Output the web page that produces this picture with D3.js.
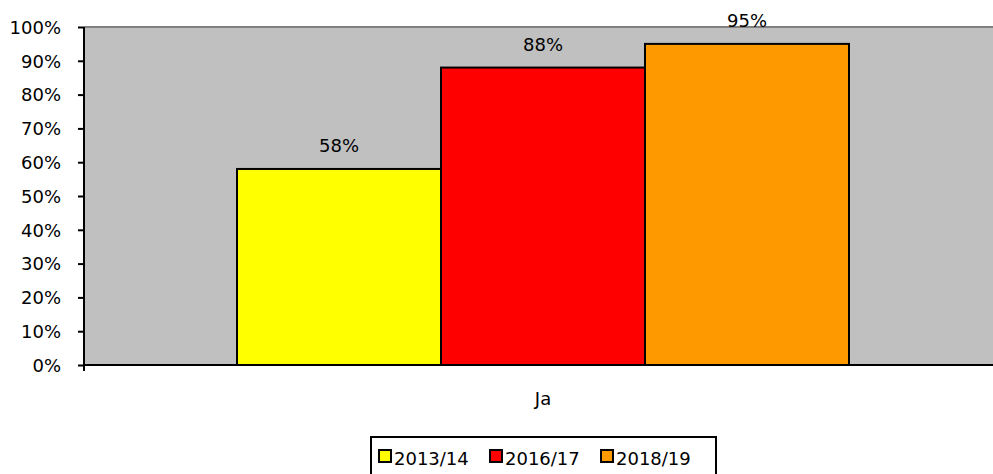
<!DOCTYPE html>
<meta charset="utf-8">
<style>
body { margin: 0; background: #fff; }
text { font-family: "DejaVu Sans", sans-serif; font-size: 18px; fill: #000; }
.tick line, .domain { stroke: #000; stroke-width: 2px; }
</style>
<body>
<div id="chart"></div>
<script src="https://d3js.org/d3.v7.min.js"></script>
<script>
// data
var categories = ["Ja"];
var seriesNames = ["2013/14", "2016/17", "2018/19"];
var seriesValues = [58, 88, 95];
var seriesColors = ["#ffff00", "#ff0000", "#ff9900"];
var yTicks = [0, 10, 20, 30, 40, 50, 60, 70, 80, 90, 100];

var W = 993, H = 474;
var margin = {top: 27, right: -9, bottom: 109, left: 84};
var width = W - margin.left - margin.right,
    height = H - margin.top - margin.bottom;

var svg = d3.select("#chart").append("svg")
    .attr("width", W)
    .attr("height", H);

var g = svg.append("g")
    .attr("transform", "translate(" + margin.left + "," + margin.top + ")");

var x0 = d3.scaleBand().domain(categories).range([0, width]).paddingInner(0).paddingOuter(0.25);
var x1 = d3.scaleBand().domain(seriesNames).range([0, x0.bandwidth()]);
var y = d3.scaleLinear().domain([0, 100]).range([height, 0]);

// plot background
g.append("rect")
    .attr("width", width)
    .attr("height", height)
    .attr("fill", "#c0c0c0");
g.append("line")
    .attr("x1", 0).attr("x2", width)
    .attr("y1", 0).attr("y2", 0)
    .attr("stroke", "#808080")
    .attr("stroke-width", 2);

// bars
var rows = seriesNames.map(function(s, i) { return {name: s, value: seriesValues[i], color: seriesColors[i]}; });
var cat = g.selectAll(".cat")
    .data(categories)
    .enter().append("g")
    .attr("transform", function(d) { return "translate(" + x0(d) + ",0)"; });

cat.selectAll("rect")
    .data(rows)
    .enter().append("rect")
    .attr("x", function(d) { return x1(d.name); })
    .attr("y", function(d) { return y(d.value); })
    .attr("width", x1.bandwidth())
    .attr("height", function(d) { return y(0) - y(d.value); })
    .attr("fill", function(d) { return d.color; })
    .attr("stroke", "#000")
    .attr("stroke-width", 2);

cat.selectAll(".lbl")
    .data(rows)
    .enter().append("text")
    .attr("class", "lbl")
    .attr("x", function(d) { return x1(d.name) + x1.bandwidth() / 2; })
    .attr("y", function(d) { return y(d.value) - 17; })
    .attr("text-anchor", "middle")
    .text(function(d) { return d.value + "%"; });

// y axis
g.append("g")
    .call(d3.axisLeft(y).tickValues(yTicks).tickSize(6).tickPadding(17).tickFormat(function(d) { return d + "%"; }))
    .call(function(a) { a.selectAll("text").style("font-size", "18px").attr("dy", "0.35em"); a.select(".domain").attr("d", "M0,0V" + height); });

// x axis
g.append("line")
    .attr("x1", 0).attr("x2", width)
    .attr("y1", height).attr("y2", height)
    .attr("stroke", "#000").attr("stroke-width", 2);
g.append("line")
    .attr("x1", 0).attr("x2", 0)
    .attr("y1", height).attr("y2", height + 6)
    .attr("stroke", "#000").attr("stroke-width", 2);
g.selectAll(".xl")
    .data(categories)
    .enter().append("text")
    .attr("x", function(d) { return x0(d) + x0.bandwidth() / 2; })
    .attr("y", height + 40)
    .attr("text-anchor", "middle")
    .text(function(d) { return d; });

// legend
var legend = svg.append("g").attr("transform", "translate(371,437)");
legend.append("rect")
    .attr("width", 345).attr("height", 50)
    .attr("fill", "#fff").attr("stroke", "#000").attr("stroke-width", 2);
var itemX = [7, 118, 229];
var item = legend.selectAll(".item")
    .data(rows)
    .enter().append("g")
    .attr("transform", function(d, i) { return "translate(" + itemX[i] + ",0)"; });
item.append("rect")
    .attr("x", 1).attr("y", 13)
    .attr("width", 12).attr("height", 12)
    .attr("fill", function(d) { return d.color; })
    .attr("stroke", "#000").attr("stroke-width", 2);
item.append("text")
    .attr("x", 16).attr("y", 28)
    .text(function(d) { return d.name; });
</script>
</body>
